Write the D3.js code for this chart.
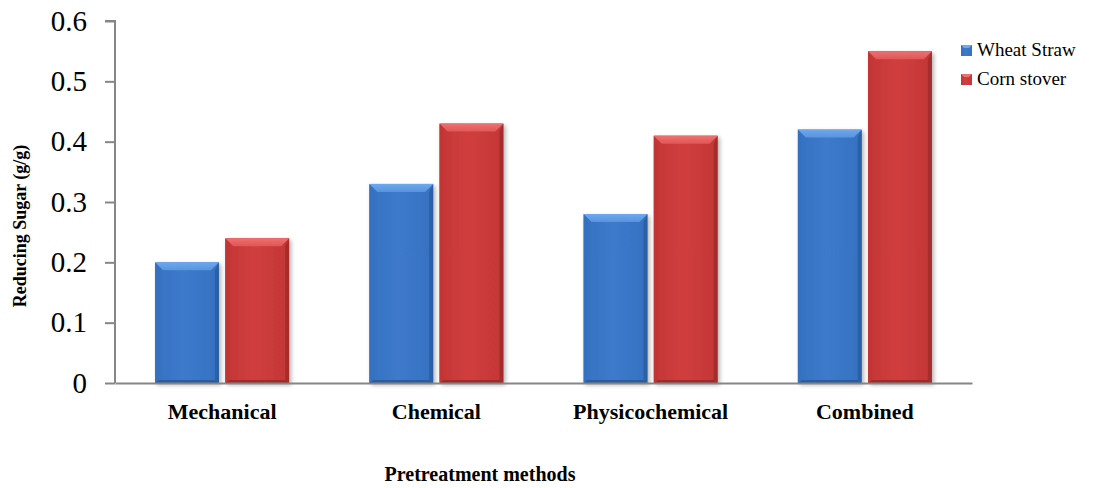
<!DOCTYPE html>
<html>
<head>
<meta charset="utf-8">
<script src="https://cdn.jsdelivr.net/npm/d3@7"></script>
<style>
  body { margin: 0; background: #fff; }
  svg { display: block; }
  svg text { font-family: "Liberation Serif", "Times New Roman", serif; }
</style>
</head>
<body>
<div id="chart"></div>
<script>
var categories = ["Mechanical", "Chemical", "Physicochemical", "Combined"];
var seriesNames = ["Wheat Straw", "Corn stover"];
var wheatStraw = [0.20, 0.33, 0.28, 0.42];
var cornStover = [0.24, 0.43, 0.41, 0.55];
var yTicks = [0, 0.1, 0.2, 0.3, 0.4, 0.5, 0.6];

var width = 1104, height = 488;
var plotLeft = 115, plotRight = 972, plotTop = 21, plotBottom = 383;
var serif = "'Liberation Serif', 'Times New Roman', serif";

var palette = [
  { main: "#3d7acb", light: "#5894dd", top: "#6ea8ee", side: "#3571c1", dark: "#2b5d9f" },
  { main: "#d13e3e", light: "#e05757", top: "#ee7070", side: "#c33636", dark: "#9f2a2a" }
];

var svg = d3.select("#chart").append("svg")
  .attr("width", width)
  .attr("height", height);

var defs = svg.append("defs");
var shadow = defs.append("filter").attr("id", "shadow")
  .attr("x", "-20%").attr("y", "-20%").attr("width", "140%").attr("height", "140%");
shadow.append("feGaussianBlur").attr("in", "SourceAlpha").attr("stdDeviation", 2);
shadow.append("feOffset").attr("dx", 2).attr("dy", 2).attr("result", "b");
shadow.append("feComponentTransfer").append("feFuncA").attr("type", "linear").attr("slope", 0.3);
var merge = shadow.append("feMerge");
merge.append("feMergeNode");
merge.append("feMergeNode").attr("in", "SourceGraphic");

palette.forEach(function (p, i) {
  var g = defs.append("linearGradient").attr("id", "face" + i)
    .attr("x1", 0).attr("y1", 0).attr("x2", 1).attr("y2", 0);
  g.append("stop").attr("offset", "0%").attr("stop-color", p.side);
  g.append("stop").attr("offset", "45%").attr("stop-color", p.main);
  g.append("stop").attr("offset", "100%").attr("stop-color", p.side);
  var t = defs.append("linearGradient").attr("id", "top" + i)
    .attr("x1", 0).attr("y1", 0).attr("x2", 0).attr("y2", 1);
  t.append("stop").attr("offset", "0%").attr("stop-color", p.top);
  t.append("stop").attr("offset", "100%").attr("stop-color", p.light);
});

var x = d3.scaleBand()
  .domain(categories)
  .range([plotLeft, plotRight])
  .paddingInner(0)
  .paddingOuter(0);

var x1 = d3.scaleBand()
  .domain(seriesNames)
  .range([x.bandwidth() / 2 - 67, x.bandwidth() / 2 + 67])
  .paddingInner(0.09);

var y = d3.scaleLinear()
  .domain([0, 0.6])
  .range([plotBottom, plotTop]);

// bars
var rows = [];
categories.forEach(function (c, i) {
  rows.push({ cat: c, s: 0, v: wheatStraw[i] });
  rows.push({ cat: c, s: 1, v: cornStover[i] });
});

var bar = svg.selectAll("g.bar")
  .data(rows)
  .enter().append("g")
  .attr("class", "bar")
  .attr("filter", "url(#shadow)")
  .attr("transform", function (d) {
    return "translate(" + (x(d.cat) + x1(seriesNames[d.s])) + "," + y(d.v) + ")";
  });

var bw = x1.bandwidth();
var bev = 8, side = 4;

bar.append("rect")
  .attr("width", bw)
  .attr("height", function (d) { return y(0) - y(d.v); })
  .attr("fill", function (d) { return "url(#face" + d.s + ")"; });

// left bevel
bar.append("path")
  .attr("d", function (d) {
    var h = y(0) - y(d.v);
    return "M0,0 L" + side + "," + bev + " L" + side + "," + (h - 3) + " L0," + h + " Z";
  })
  .attr("fill", function (d) { return palette[d.s].side; });

// right bevel
bar.append("path")
  .attr("d", function (d) {
    var h = y(0) - y(d.v);
    return "M" + bw + ",0 L" + (bw - side) + "," + bev + " L" + (bw - side) + "," + (h - 3) + " L" + bw + "," + h + " Z";
  })
  .attr("fill", function (d) { return palette[d.s].dark; })
  .attr("opacity", 0.8);

// top bevel
bar.append("path")
  .attr("d", "M0,0 L" + bw + ",0 L" + (bw - bev) + "," + bev + " L" + bev + "," + bev + " Z")
  .attr("fill", function (d) { return "url(#top" + d.s + ")"; });

// bottom bevel
bar.append("path")
  .attr("d", function (d) {
    var h = y(0) - y(d.v);
    return "M0," + h + " L" + side + "," + (h - 3) + " L" + (bw - side) + "," + (h - 3) + " L" + bw + "," + h + " Z";
  })
  .attr("fill", function (d) { return palette[d.s].dark; });

// y axis
var yAxis = d3.axisLeft(y)
  .tickValues(yTicks)
  .tickSize(10)
  .tickPadding(18)
  .tickFormat(function (d) { return d === 0 ? "0" : d3.format(".1f")(d); });

var gy = svg.append("g")
  .attr("transform", "translate(" + plotLeft + ",0)")
  .call(yAxis);
gy.select(".domain").attr("stroke", "#868686").attr("stroke-width", 2)
  .attr("d", "M-10," + plotTop + "H0V" + plotBottom);
gy.selectAll(".tick line").attr("stroke", "#868686").attr("stroke-width", 2);
gy.selectAll(".tick text")
  .attr("font-family", serif)
  .attr("font-size", 29)
  .attr("fill", "#000");

// x axis
var xAxis = d3.axisBottom(x).tickSize(0).tickPadding(20);
var gx = svg.append("g")
  .attr("transform", "translate(0," + plotBottom + ")")
  .call(xAxis);
gx.select(".domain").attr("stroke", "#868686").attr("stroke-width", 2);
gx.selectAll(".tick text")
  .attr("font-family", serif)
  .attr("font-size", 22)
  .attr("font-weight", "bold")
  .attr("fill", "#000");

// axis titles
svg.append("text")
  .attr("transform", "translate(26," + 226 + ") rotate(-90)")
  .attr("text-anchor", "middle")
  .attr("font-family", serif)
  .attr("font-size", 18)
  .attr("font-weight", "bold")
  .text("Reducing Sugar (g/g)");

svg.append("text")
  .attr("x", 480)
  .attr("y", 481)
  .attr("text-anchor", "middle")
  .attr("font-family", serif)
  .attr("font-size", 20)
  .attr("font-weight", "bold")
  .text("Pretreatment methods");

// legend
var legend = svg.selectAll("g.legend")
  .data(seriesNames)
  .enter().append("g")
  .attr("class", "legend")
  .attr("transform", function (d, i) { return "translate(961," + (45 + i * 29) + ")"; });

legend.append("rect")
  .attr("width", 11).attr("height", 11)
  .attr("fill", function (d, i) { return "url(#face" + i + ")"; });
legend.append("path")
  .attr("d", "M0,0 L11,0 L8,3 L3,3 Z")
  .attr("fill", function (d, i) { return palette[i].top; });
legend.append("text")
  .attr("x", 16)
  .attr("y", 11)
  .attr("font-family", serif)
  .attr("font-size", 19)
  .text(function (d) { return d; });
</script>
</body>
</html>
